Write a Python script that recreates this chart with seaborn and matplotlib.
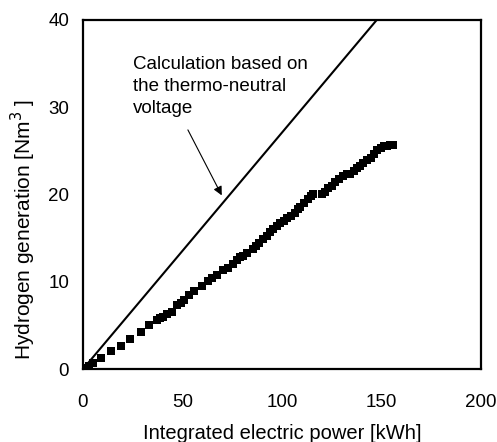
import numpy as np
import pandas as pd
import matplotlib
matplotlib.use('Agg')
import matplotlib.pyplot as plt
import seaborn as sns

sns.set_style("white")
plt.rcParams['font.family'] = ['Liberation Sans', 'DejaVu Sans']
plt.rcParams['text.color'] = 'black'
plt.rcParams['axes.labelcolor'] = 'black'
plt.rcParams['xtick.color'] = 'black'
plt.rcParams['ytick.color'] = 'black'

power_kwh = [1.7, 3.0, 5.0, 9.2, 14.3, 19.3, 23.8, 28.9, 33.2, 37.2, 38.5, 40.3,
             42.0, 44.5, 47.3, 49.0, 50.7, 53.5, 55.9, 59.6, 62.9, 65.0, 67.1,
             70.5, 73.0, 75.5, 77.5, 78.9, 80.5, 82.2, 85.2, 87.0, 88.4, 90.5,
             92.3, 94.0, 95.6, 97.5, 99.0, 101.0, 102.7, 104.5, 106.5, 108.0,
             109.0, 111.0, 112.8, 114.5, 115.8, 120.0, 121.5, 123.0, 125.0,
             126.7, 128.5, 130.5, 132.5, 134.2, 136.0, 137.6, 139.0, 140.9,
             142.8, 144.6, 146.0, 147.7, 149.5, 151.0, 152.8, 154.4, 155.5]
hydrogen_nm3 = [0.1, 0.4, 0.7, 1.3, 2.1, 2.7, 3.5, 4.3, 5.0, 5.6, 5.9, 6.0,
                6.3, 6.5, 7.3, 7.6, 7.9, 8.5, 9.0, 9.5, 10.1, 10.4, 10.8,
                11.3, 11.6, 12.0, 12.5, 12.8, 13.0, 13.3, 13.7, 14.1, 14.4, 14.9,
                15.3, 15.7, 16.0, 16.4, 16.7, 17.0, 17.3, 17.5, 17.9, 18.3,
                18.6, 19.0, 19.5, 19.8, 20.0, 20.0, 20.3, 20.7, 21.0,
                21.4, 21.8, 22.1, 22.3, 22.4, 22.7, 23.0, 23.3, 23.6,
                23.9, 24.2, 24.6, 25.1, 25.3, 25.5, 25.6, 25.7, 25.7]

# thermo-neutral voltage line
calc_power = [0, 200]
calc_slope = 0.271  # Nm3 per kWh
calc_h2 = [p * calc_slope for p in calc_power]

df = pd.DataFrame({'power': power_kwh, 'h2': hydrogen_nm3})
df_calc = pd.DataFrame({'power': calc_power, 'h2': calc_h2})

fig = plt.figure(figsize=(4.97, 4.42), dpi=100)
ax = fig.add_axes([0.167, 0.165, 0.801, 0.79])

sns.lineplot(data=df_calc, x='power', y='h2', color='black', linewidth=1.5, ax=ax)
sns.scatterplot(data=df, x='power', y='h2', marker='s', color='black',
                s=30, edgecolor='black', linewidth=0, ax=ax, zorder=3)

ax.set_xlim(0, 200)
ax.set_ylim(0, 40)
ax.set_xticks([0, 50, 100, 150, 200])
ax.set_yticks([0, 10, 20, 30, 40])
ax.tick_params(direction='in', length=5, width=1, labelsize=13.5, color='black')
ax.tick_params(axis='x', pad=18)
ax.tick_params(axis='y', pad=10)
for s in ax.spines.values():
    s.set_color('black')
    s.set_linewidth(1.6)

ax.set_xlabel('Integrated electric power [kWh]', fontsize=14.5, labelpad=9)
ax.set_ylabel('Hydrogen generation [Nm$^3$ ]', fontsize=15)
ax.yaxis.set_label_coords(-0.112, 0.401)

ax.text(25, 35.9, 'Calculation based on\nthe thermo-neutral\nvoltage',
        fontsize=13.5, va='top', ha='left', linespacing=1.4)
ax.annotate('', xy=(69.7, 19.9), xytext=(52.7, 27.4),
            arrowprops=dict(arrowstyle='-|>', color='black', lw=0.8,
                            shrinkA=0, shrinkB=0, mutation_scale=13))

fig.savefig('out.png', dpi=100)
